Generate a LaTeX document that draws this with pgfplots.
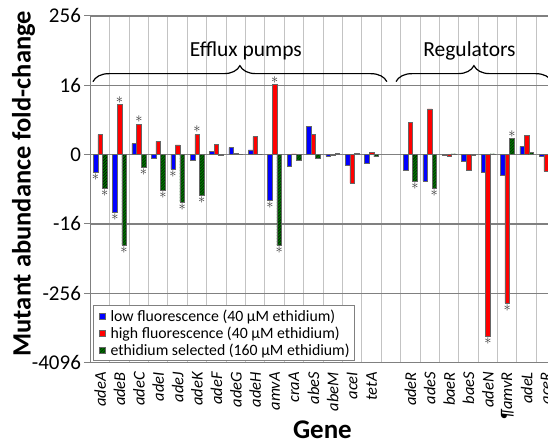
\documentclass[border=0pt]{standalone}
\usepackage{fontspec}
\setmainfont{Carlito}
\usepackage{pgfplots}
\pgfplotsset{compat=1.18}
\usepackage{pgfplotstable}
\usetikzlibrary{patterns,decorations.pathreplacing}

\definecolor{cblue}{RGB}{0,0,255}
\definecolor{cred}{RGB}{255,0,0}
\definecolor{cgreen}{RGB}{0,115,0}
\definecolor{majgrid}{RGB}{128,128,128}
\definecolor{mingrid}{RGB}{195,195,195}

% values in log16 units (sign * log16 |fold-change|)
\pgfplotstableread{
x  name  b     r      g
0  adeA  -0.25 0.29   -0.48
1  adeB  -0.83 0.72   -1.31
2  adeC  0.16  0.44   -0.18
3  adeI  -0.05 0.19   -0.51
4  adeJ  -0.21 0.14   -0.68
5  adeK  -0.08 0.29   -0.58
6  adeF  0.05  0.15   -0.01
7  adeG  0.10  0.02   0.00
8  adeH  0.07  0.26   0.00
9  amvA  -0.66 1.01   -1.31
10 craA  -0.17 0.01   -0.08
11 abeS  0.41  0.29   -0.05
12 abeM  -0.02 -0.01  0.02
13 aceI  -0.16 -0.41  0.02
14 tetA  -0.12 0.03   -0.03
16 adeR  -0.22 0.47   -0.38
17 adeS  -0.38 0.66   -0.49
18 baeR  -0.01 -0.02  0.01
19 baeS  -0.09 -0.23  -0.01
20 adeN  -0.25 -2.62  0.01
21 amvR  -0.29 -2.14  0.23
22 adeL  0.12  0.28   0.03
23 aceR  -0.03 -0.24  0.00
}\data
% significant bars (asterisks)
\pgfplotstableread{
x y
0 -0.25
1 -0.83
4 -0.21
9 -0.66
}\sigb
\pgfplotstableread{
x y
1 0.72
2 0.44
5 0.29
9 1.01
20 -2.62
21 -2.14
}\sigr
\pgfplotstableread{
x y
0 -0.48
1 -1.31
2 -0.18
3 -0.51
4 -0.68
5 -0.58
9 -1.31
16 -0.38
17 -0.49
21 0.23
}\sigg

\begin{document}
\begin{tikzpicture}
\begin{axis}[
  scale only axis, width=458pt, height=347pt,
  xmin=-0.5, xmax=23.1, ymin=-3, ymax=2,
  ybar, bar width=4.6pt,
  legend image code/.code={\path (0pt,0pt) (12pt,0pt); \draw[#1] (3pt,-2.9pt) rectangle (8.8pt,2.9pt);},
  axis lines*=left,
  axis line style={majgrid, line width=1.5pt, -},
  xtick={0,1,2,3,4,5,6,7,8,9,10,11,12,13,14,16,17,18,19,20,21,22,23},
  xticklabels={adeA,adeB,adeC,adeI,adeJ,adeK,adeF,adeG,adeH,amvA,craA,abeS,abeM,aceI,tetA,adeR,adeS,baeR,baeS,adeN,¶amvR,adeL,aceR},
  xticklabel style={rotate=90, anchor=east, font=\fontsize{16.5}{18}\selectfont\itshape},
  xtick style={draw=none},
  minor xtick={0.5,1.5,...,22.5},
  minor tick length=0pt,
  xminorgrids=true,
  minor grid style={mingrid, line width=1pt},
  ytick={-3,-2,-1,1,2},
  yticklabels={-4096,-256,-16,16,256},
  extra y ticks={0},
  extra y tick labels={0},
  extra y tick style={grid style={mingrid, line width=1pt}},
  ymajorgrids=true,
  major grid style={majgrid, line width=1.6pt},
  ytick style={majgrid, line width=1pt},
  tick align=outside,
  major tick length=6pt,
  yticklabel style={font=\fontsize{21}{24}\selectfont},
  /pgf/number format/assume math mode=true,
  ylabel={Mutant abundance fold-change},
  ylabel style={at={(axis description cs:-0.146,0.516)}, anchor=center, font=\fontsize{26.5}{30}\selectfont\bfseries},
  xlabel={Gene},
  xlabel style={at={(axis description cs:0.507,-0.193)}, anchor=center, font=\fontsize{27}{30}\selectfont\bfseries},
  legend style={at={(rel axis cs:0.005,0.004)}, anchor=south west, draw=majgrid, line width=0.8pt,
    font=\fontsize{15.8}{18}\selectfont, row sep=0pt, inner xsep=3pt, inner ysep=2pt},
  legend cell align=left,
]
\addplot[bar shift=-4.6pt, fill=cblue, draw=black!60, line width=0.5pt] table[x=x, y=b] {\data};
\addplot[bar shift=0pt, fill=cred, draw=black!60, line width=0.5pt] table[x=x, y=r] {\data};
\addplot[bar shift=4.6pt, fill=cgreen, draw=black!60, line width=0.5pt, postaction={pattern=north east lines, pattern color=black}] table[x=x, y=g] {\data};
\legend{low fluorescence (40 µM ethidium), high fluorescence (40 µM ethidium), ethidium selected (160 µM ethidium)}

\pgfplotsset{sigstyle/.style={forget plot, draw=none, fill=none, point meta=y,
  nodes near coords={$\ast$}, nodes near coords align=vertical,
  nodes near coords style={font=\fontsize{14}{14}\selectfont, inner sep=1.4pt, text=black!80}}}
\addplot[sigstyle, bar shift=-4.6pt] table[x=x, y=y] {\sigb};
\addplot[sigstyle, bar shift=0pt] table[x=x, y=y] {\sigr};
\addplot[sigstyle, bar shift=4.6pt] table[x=x, y=y] {\sigg};

\draw[decorate, decoration={brace, amplitude=16pt}, line width=1.2pt] (axis cs:-0.37,1.053) -- (axis cs:14.79,1.053);
\draw[decorate, decoration={brace, amplitude=16pt}, line width=1.2pt] (axis cs:15.26,1.053) -- (axis cs:23.3,1.053);
\node[anchor=base, font=\fontsize{21.5}{24}\selectfont, inner sep=0pt] at (axis cs:7.52,1.41) {Efflux pumps};
\node[anchor=base, font=\fontsize{21.5}{24}\selectfont, inner sep=0pt] at (axis cs:19.05,1.41) {Regulators};
\end{axis}
\pgfresetboundingbox
\path[use as bounding box] ([xshift=-90.5pt,yshift=-78pt]current axis.south west) rectangle ([yshift=16pt]current axis.north east);
\end{tikzpicture}
\end{document}
